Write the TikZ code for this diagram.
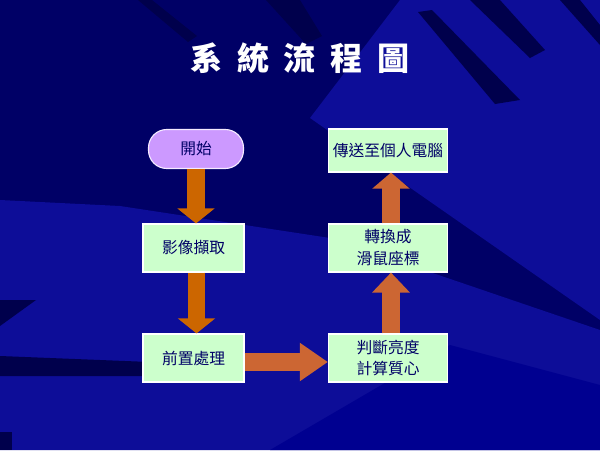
\documentclass[tikz,border=0pt]{standalone}
\usepackage{fontspec}
\setmainfont{Noto Sans CJK TC}
\usepackage{tikz}
\usetikzlibrary{positioning,calc,arrows.meta}
\definecolor{bgdeep}{HTML}{000066}
\definecolor{bglight}{HTML}{0D0D98}
\definecolor{bgdark}{HTML}{00004C}
\definecolor{bgplain}{HTML}{000090}
\definecolor{boxgreen}{HTML}{CCFFCC}
\definecolor{startpurple}{HTML}{CC99FF}
\definecolor{textnavy}{HTML}{000066}
\definecolor{arrowdown}{HTML}{CC6600}
\definecolor{arrowup}{HTML}{CC6633}
\tikzset{
	fat arrow/.style args={#1 headed by #2}{
		line width=12.5pt,#1,
		-{Triangle[width=26pt,length=#2]}, % block arrow
	}
}

\begin{document}
\begin{tikzpicture}[x=0.025cm, y=-0.025cm]
	\tikzstyle{stepbox} = [rectangle, minimum width=101*0.7113pt, minimum height=48*0.7113pt, text centered, align=center, fill=boxgreen, draw=white, line width=0.8pt, text=textnavy, font=\fontsize{11.2pt}{15.6pt}\selectfont, inner sep=1pt]
	\tikzstyle{widebox} = [stepbox, minimum width=119*0.7113pt]
	\tikzstyle{startbox} = [stepbox, rounded corners=13pt, minimum width=95*0.7113pt, minimum height=39*0.7113pt, fill=startpurple, draw=white!80!startpurple]
	% background
	\useasboundingbox (0,0) rectangle (600,450);
	\fill[bgdeep] (0,0) rectangle (600,450);
	\fill[bglight] (0,200) -- (120,206) -- (330,238) -- (600,330) -- (600,450) -- (0,450) -- cycle;
	\fill[bglight] (400,0) -- (600,0) -- (600,320) -- (310,118) -- cycle;
	\fill[bgplain] (450,345) -- (600,385) -- (600,450) -- (270,450) -- cycle;
	\fill[bgdark] (138,0) -- (152,0) -- (197,36) -- (188,42) -- cycle;
	\fill[bgdark] (266,0) -- (300,0) -- (322,36) -- (306,44) -- cycle;
	\fill[bgdark] (418,12) -- (432,10) -- (520,100) -- (495,104) -- cycle;
	\fill[bgdark] (470,0) -- (500,0) -- (545,50) -- (530,58) -- cycle;
	\fill[bgdark] (560,0) -- (580,0) -- (600,25) -- (600,45) -- cycle;
	\fill[bgdark] (0,356) -- (150,362) -- (150,376) -- (0,376) -- cycle;
	\fill[bgdark] (0,300) -- (36,300) -- (0,326) -- cycle;
	\fill[bgdark] (0,432) -- (12,432) -- (12,450) -- (0,450) -- cycle;
	% title
	\node (title)[text=white, font=\bfseries\fontsize{22.8pt}{26pt}\selectfont] at (300,58) {\spaceskip=10.5pt 系 統 流 程 圖};
	% flow
	\node (start)[startbox] at (196,149) {開始};
	\node (capture)[stepbox] at (193.5,248) {影像擷取};
	\node (preproc)[stepbox] at (193.5,358) {前置處理};
	\node (judge)[widebox] at (388,358) {判斷亮度\\計算質心};
	\node (convert)[widebox] at (388,248) {轉換成\\滑鼠座標};
	\node (send)[widebox, minimum height=43*0.7113pt] at (388,150.5) {傳送至個人電腦};
	\draw [fat arrow = arrowdown headed by 10.7pt] (start.south) -- (start.south |- capture.north);
	\draw [fat arrow = arrowdown headed by 10.7pt] ($(capture.south)+(3,0)$) -- ($(preproc.north)+(3,0)$);
	\draw [fat arrow = arrowup headed by 20pt] ($(preproc.east)+(0,4)$) -- ($(judge.west)+(0,4)$);
	\draw [fat arrow = arrowup headed by 14.2pt] ($(judge.north)+(3,0)$) -- ($(convert.south)+(3,0)$);
	\draw [fat arrow = arrowup headed by 11.4pt] ($(convert.north)+(3,0)$) -- ($(send.south)+(3,0)$);
\end{tikzpicture}
\end{document}
